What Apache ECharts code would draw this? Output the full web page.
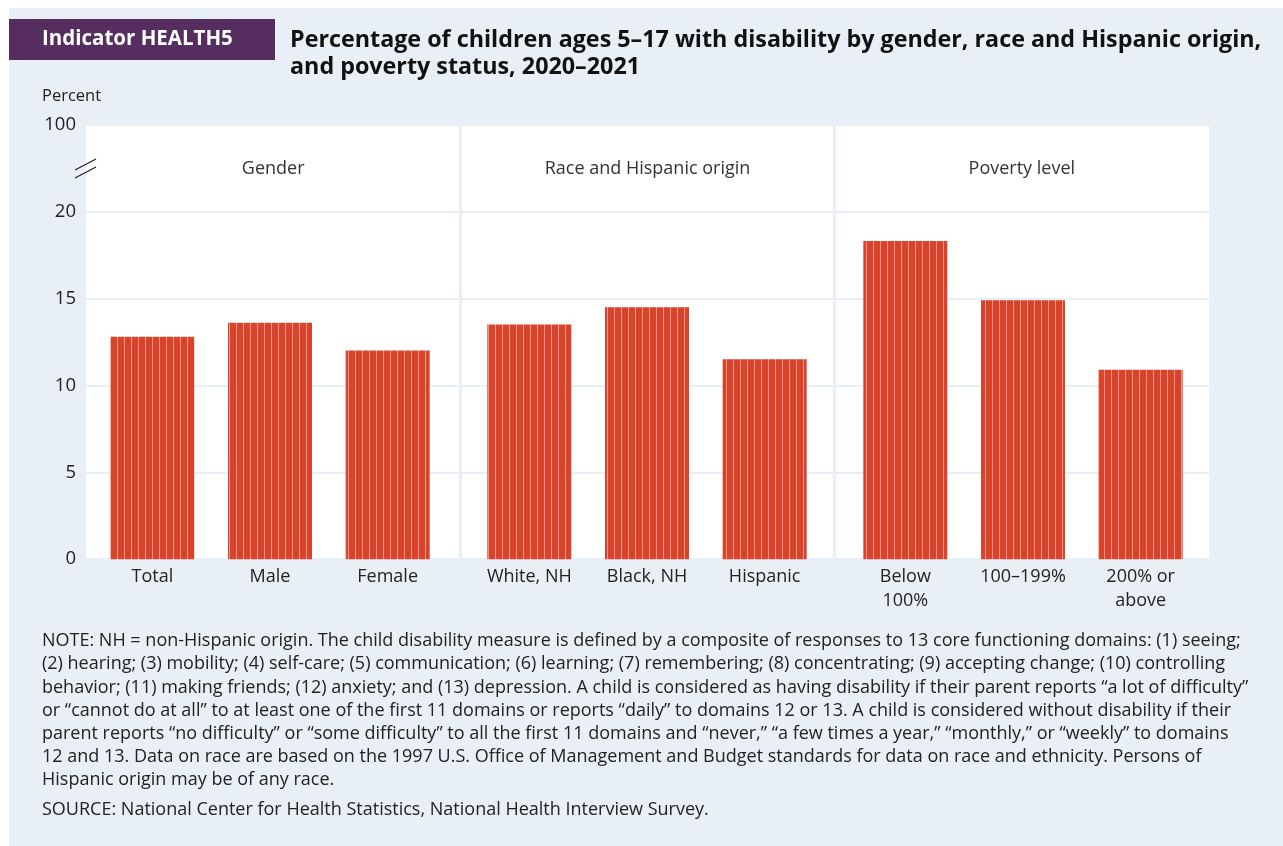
<!DOCTYPE html>
<html>
<head>
<meta charset="utf-8">
<script src="https://cdn.jsdelivr.net/npm/echarts@6/dist/echarts.min.js"></script>
<style>
html,body{margin:0;padding:0;background:#fff;}
#c{width:1283px;height:846px;}
</style>
</head>
<body>
<div id="c"></div>
<script>
// ---- data ----
const groups = ['Gender', 'Race and Hispanic origin', 'Poverty level'];
const genderCats = ['Total', 'Male', 'Female'];
const genderVals = [12.8, 13.6, 12.0];
const raceCats = ['White, NH', 'Black, NH', 'Hispanic'];
const raceVals = [13.5, 14.5, 11.5];
const povertyCats = ['Below\n100%', '100–199%', '200% or\nabove'];
const povertyVals = [18.3, 14.9, 10.9];
const yTicks = [0, 5, 10, 15, 20];
const yBreakLabel = '100';

const indicatorText = 'Indicator HEALTH5';
const titleText = 'Percentage of children ages 5–17 with disability by gender, race and Hispanic origin,\nand poverty status, 2020–2021';
const noteLines = [
  'NOTE: NH = non-Hispanic origin. The child disability measure is defined by a composite of responses to 13 core functioning domains: (1) seeing;',
  '(2) hearing; (3) mobility; (4) self-care; (5) communication; (6) learning; (7) remembering; (8) concentrating; (9) accepting change; (10) controlling',
  'behavior; (11) making friends; (12) anxiety; and (13) depression. A child is considered as having disability if their parent reports “a lot of difficulty”',
  'or “cannot do at all” to at least one of the first 11 domains or reports “daily” to domains 12 or 13. A child is considered without disability if their',
  'parent reports “no difficulty” or “some difficulty” to all the first 11 domains and “never,” “a few times a year,” “monthly,” or “weekly” to domains',
  '12 and 13. Data on race are based on the 1997 U.S. Office of Management and Budget standards for data on race and ethnicity. Persons of',
  'Hispanic origin may be of any race.'
];
const sourceText = 'SOURCE: National Center for Health Statistics, National Health Interview Survey.';

// ---- styles ----
const FONT = 'Open Sans';
const BG = '#e8eff6';
const TXT = '#222';
const yMax = 25; // the top slot shows the "100" break label

// striped pattern for bars
const pat = document.createElement('canvas');
pat.width = 7; pat.height = 8;
const pctx = pat.getContext('2d');
pctx.fillStyle = '#d8432b';
pctx.fillRect(0, 0, 7, 8);
pctx.fillStyle = '#f09484';
pctx.fillRect(5, 0, 1, 8);
const barColor = { image: pat, repeat: 'repeat' };

const gridTop = 124.6, gridH = 434.6;
const barGrids = [93.5, 470.5, 846.5];
const catSets = [genderCats, raceCats, povertyCats];
const valSets = [genderVals, raceVals, povertyVals];

const grids = [{ left: 86, top: gridTop, width: 1123, height: gridH, show: true, backgroundColor: '#fff', borderWidth: 0 }];
barGrids.forEach(l => grids.push({ left: l, top: gridTop, width: 353, height: gridH }));

const xAxes = [{
  gridIndex: 0, type: 'category', data: groups, position: 'top',
  axisLine: { show: false }, axisTick: { show: false },
  axisLabel: { inside: true, margin: 44, fontFamily: FONT, fontSize: 18, color: '#333', verticalAlign: 'middle' },
  splitLine: { show: true, showMinLine: false, showMaxLine: false, lineStyle: { color: BG, width: 3 } }
}];
const yAxes = [{
  gridIndex: 0, type: 'value', min: 0, max: yMax, interval: 5,
  axisLine: { show: false }, axisTick: { show: false },
  axisLabel: {
    margin: 10, fontFamily: FONT, fontSize: 18.5, color: TXT,
    formatter: v => (yTicks.indexOf(v) >= 0 ? String(v) : (v === yMax ? yBreakLabel : ''))
  },
  splitLine: { show: true, lineStyle: { color: BG, width: 2 } }
}];
const series = [];
catSets.forEach((cats, i) => {
  xAxes.push({
    gridIndex: i + 1, type: 'category', data: cats,
    axisLine: { show: false }, axisTick: { show: false },
    axisLabel: { margin: 6, fontFamily: FONT, fontSize: 18, color: TXT, lineHeight: 23.5, interval: 0 }
  });
  yAxes.push({ gridIndex: i + 1, type: 'value', min: 0, max: yMax, show: false, splitLine: { show: false } });
  series.push({
    type: 'bar', xAxisIndex: i + 1, yAxisIndex: i + 1, data: valSets[i],
    barWidth: 84, itemStyle: { color: barColor }, silent: true, animation: false
  });
});

const chart = echarts.init(document.getElementById('c'), null, { renderer: 'canvas' });
chart.setOption({
  animation: false,
  backgroundColor: '#fff',
  title: [
    { text: indicatorText, left: 42, top: 27, padding: 0, textStyle: { fontFamily: FONT, fontSize: 20.5, fontWeight: 'bold', color: '#fff', lineHeight: 24 } },
    { text: titleText, left: 290, top: 26.5, padding: 0, textStyle: { fontFamily: FONT, fontSize: 23.3, fontWeight: 'bold', color: '#111', lineHeight: 27 } },
    { text: 'Percent', left: 42, top: 84, padding: 0, textStyle: { fontFamily: FONT, fontSize: 16.5, fontWeight: 'normal', color: TXT, lineHeight: 24 } },
    { text: noteLines.join('\n'), left: 42, top: 629.4, padding: 0, textStyle: { fontFamily: FONT, fontSize: 18, fontWeight: 'normal', color: TXT, lineHeight: 23.2 } },
    { text: sourceText, left: 42, top: 798.5, padding: 0, textStyle: { fontFamily: FONT, fontSize: 18, fontWeight: 'normal', color: TXT, lineHeight: 23 } }
  ],
  grid: grids,
  xAxis: xAxes,
  yAxis: yAxes,
  series: series
});

// axis break mark at the left edge, midway between 20 and the top slot
const bp = chart.convertToPixel({ gridIndex: 0 }, [0, (yTicks[yTicks.length - 1] + yMax) / 2]);
const bx = 86;
chart.setOption({
  graphic: [
    { type: 'rect', z: -10, shape: { x: 9, y: 8, width: 1274, height: 838 }, style: { fill: BG } },
    { type: 'rect', z: -5, shape: { x: 9, y: 19, width: 266, height: 41 }, style: { fill: '#552e5f' } },
    { type: 'line', z: 10, shape: { x1: bx - 11, y1: bp[1] + 2, x2: bx + 10, y2: bp[1] - 9 }, style: { stroke: '#222', lineWidth: 1.2 } },
    { type: 'line', z: 10, shape: { x1: bx - 11, y1: bp[1] + 10, x2: bx + 10, y2: bp[1] - 1 }, style: { stroke: '#222', lineWidth: 1.2 } }
  ]
});
</script>
</body>
</html>
